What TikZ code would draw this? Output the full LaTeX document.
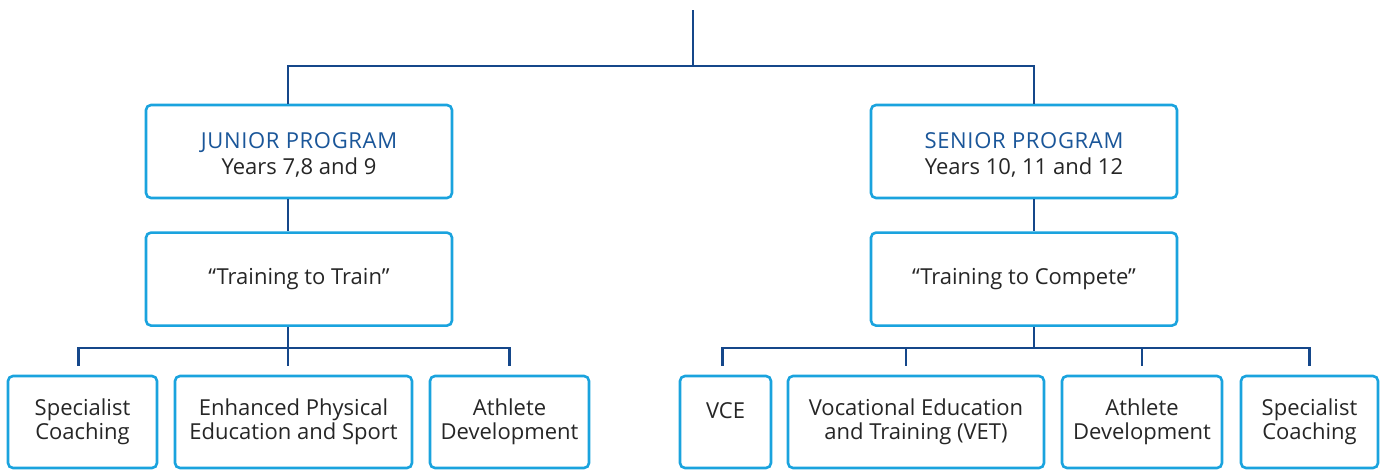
\documentclass[tikz,border=0pt]{standalone}
\usepackage{fontspec}
\setmainfont{Open Sans}
\usepackage{tikz}
\usetikzlibrary{positioning}

\definecolor{linkblue}{HTML}{15478A}
\definecolor{boxblue}{HTML}{1AA3DE}
\definecolor{headblue}{HTML}{1A5699}
\definecolor{inkgray}{HTML}{262626}

\begin{document}
\begin{tikzpicture}[x=1pt, y=-1pt, node distance=32pt,
    box/.style={rectangle, draw=boxblue, line width=2.6pt, rounded corners=5pt,
                fill=white, text=inkgray, align=center, inner sep=0pt,
                font=\fontsize{22}{26}\selectfont},
    prog/.style={box, minimum width=306pt, minimum height=93pt},
    leaf/.style={box, minimum height=92pt, font=\fontsize{22}{23.5}\selectfont},
    link/.style={draw=linkblue, line width=2.8pt},
    drop/.style={link, shorten >=9pt}]

\useasboundingbox (0,0) rectangle (1385,469);

\node[prog] (jr) at (299,151.5) {\rule{0pt}{23pt}{\addfontfeature{LetterSpace=3}\color{headblue}JUNIOR PROGRAM}\\Years 7,8 and 9};
\node[prog, below=32pt of jr] (jt) {“Training to Train”};
\node[prog] (sr) at (1024,151.5) {\rule{0pt}{23pt}{\addfontfeature{LetterSpace=3}\color{headblue}SENIOR PROGRAM}\\Years 10, 11 and 12};
\node[prog, below=32pt of sr] (st) {“Training to Compete”};

\node[leaf, minimum width=149pt] (spc1) at (82.5,422) {Specialist\\Coaching};
\node[leaf, minimum width=237pt] (epe) at (293.5,422) {Enhanced Physical\\Education and Sport};
\node[leaf, minimum width=159pt] (ath1) at (509.5,422) {Athlete\\Development};
\node[leaf, minimum width=91pt] (vce) at (725.5,422) {VCE\\\phantom{V}};
\node[leaf, minimum width=256pt] (vet) at (916,422) {Vocational Education\\and Training (VET)};
\node[leaf, minimum width=160pt] (ath2) at (1142,422) {Athlete\\Development};
\node[leaf, minimum width=137pt] (spc2) at (1309.5,422) {Specialist\\Coaching};

\coordinate (top) at (693,10);
\draw[link] (top) -- ++(0,56) coordinate (hub);
\draw[link] ([xshift=-11pt]jr.north) |- (hub) -| ([xshift=10pt]sr.north);

\draw[link] ([xshift=-11pt]jr.south) -- ([xshift=-11pt]jt.north);
\draw[link] ([xshift=-11pt]jt.south) -- ++(0,21) coordinate (jbus);
\draw[link, shorten <=9pt, shorten >=9pt] ([xshift=-4pt]spc1.north) |- (jbus) -| (ath1.north);
\draw[drop] (jbus) -- (jbus |- epe.north);

\draw[link] ([xshift=10pt]sr.south) -- ([xshift=10pt]st.north);
\draw[link] ([xshift=10pt]st.south) -- ++(0,21) coordinate (sbus);
\draw[link, shorten <=9pt, shorten >=9pt] ([xshift=-3pt]vce.north) |- (sbus) -| (spc2.north);
\coordinate (vetin) at ([xshift=-10pt]vet.north);
\draw[drop] (vetin |- sbus) -- (vetin);
\draw[drop] (ath2.north |- sbus) -- (ath2.north);
\end{tikzpicture}
\end{document}
